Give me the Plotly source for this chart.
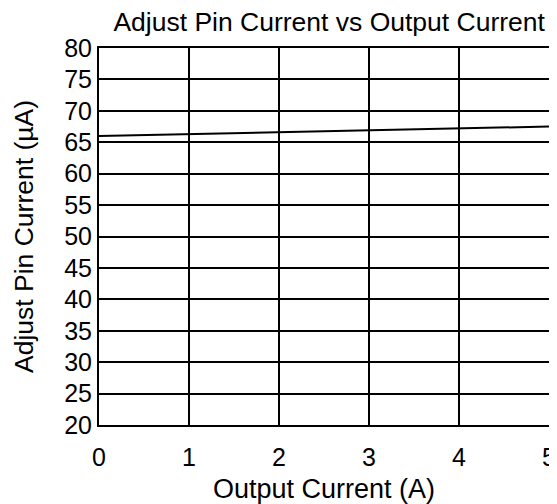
import plotly.graph_objects as go

output_current = [0, 1, 2, 3, 4, 5]
adjust_pin_current = [66.0, 66.3, 66.6, 66.9, 67.2, 67.5]

x_ticks = [0, 1, 2, 3, 4, 5]
y_ticks = [20, 25, 30, 35, 40, 45, 50, 55, 60, 65, 70, 75, 80]

font_family = "Liberation Sans, Arial, sans-serif"

# The page body adds an 8px offset; the figure size/margins compensate for it.
fig = go.Figure()
fig.add_trace(go.Scatter(x=output_current, y=adjust_pin_current, mode="lines",
                         line=dict(color="black", width=2), showlegend=False))

fig.update_layout(
    width=549, height=496,
    margin=dict(l=91, r=8, t=40, b=79, pad=0),
    paper_bgcolor="white", plot_bgcolor="white",
    font=dict(family=font_family, size=25, color="black"),
    title=dict(text="Adjust Pin Current vs Output Current", x=0.585, xanchor="center",
               y=0.992, yanchor="top", pad=dict(t=0, b=0),
               font=dict(size=26.5, family=font_family)),
    xaxis=dict(range=[0, 5], tickvals=x_ticks, showgrid=True, gridcolor="black", gridwidth=2,
               showline=True, linecolor="black", linewidth=2, mirror=True, zeroline=False,
               automargin=False,
               ticks="", ticklabelstandoff=9, tickfont=dict(size=25),
               title=dict(text="Output Current (A)", standoff=18, font=dict(size=27))),
    yaxis=dict(range=[20, 80], tickvals=y_ticks, showgrid=True, gridcolor="black", gridwidth=2,
               showline=True, linecolor="black", linewidth=2, mirror=True, zeroline=False,
               automargin=False,
               ticks="", ticklabelstandoff=0, tickfont=dict(size=25),
               title=dict(text="Adjust Pin Current (µA)", standoff=23, font=dict(size=26.5))),
)

fig.write_html("out.html")
